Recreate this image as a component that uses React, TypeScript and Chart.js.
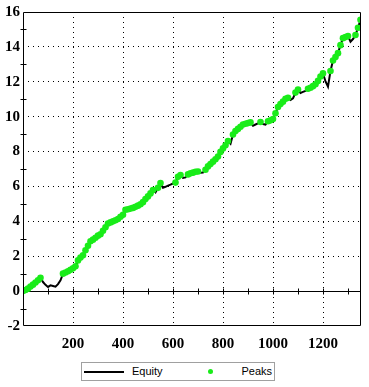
import React, { useEffect, useRef } from "react";
import { Chart, registerables } from "chart.js";

Chart.register(...registerables);

const xValues = [
  0, 10, 20, 30, 40, 50, 60, 70, 80, 90,
  100, 110, 120, 130, 140, 150, 160, 170, 180, 190,
  200, 210, 220, 230, 240, 250, 260, 270, 280, 290,
  300, 310, 320, 330, 340, 350, 360, 370, 380, 390,
  400, 410, 420, 430, 440, 450, 460, 470, 480, 490,
  500, 510, 520, 530, 540, 550, 560, 570, 580, 590,
  600, 610, 620, 630, 640, 650, 660, 670, 680, 690,
  700, 710, 720, 730, 740, 750, 760, 770, 780, 790,
  800, 810, 820, 830, 840, 850, 860, 870, 880, 890,
  900, 910, 920, 930, 940, 950, 960, 970, 980, 990,
  1000, 1010, 1020, 1030, 1040, 1050, 1060, 1070, 1080, 1090,
  1100, 1110, 1120, 1130, 1140, 1150, 1160, 1170, 1180, 1190,
  1200, 1210, 1220, 1230, 1240, 1250, 1260, 1270, 1280, 1290,
  1300, 1310, 1320, 1330, 1340, 1350,
];

const equityValues = [
  0.0, 0.06, 0.14, 0.26, 0.37, 0.49, 0.62, 0.76, 0.52, 0.36,
  0.24, 0.33, 0.29, 0.25, 0.4, 0.62, 1.0, 1.07, 1.14, 1.22,
  1.31, 1.42, 1.76, 1.92, 2.06, 2.34, 2.6, 2.86, 2.95, 3.06,
  3.18, 3.26, 3.46, 3.66, 3.88, 3.94, 4.0, 4.06, 4.13, 4.26,
  4.38, 4.66, 4.69, 4.73, 4.77, 4.83, 4.9, 4.98, 5.1, 5.28,
  5.43, 5.6, 5.8, 5.66, 5.92, 6.2, 5.93, 5.98, 6.05, 6.1,
  6.17, 6.22, 6.55, 6.66, 6.49, 6.52, 6.69, 6.75, 6.79, 6.84,
  6.86, 6.78, 6.8, 6.96, 7.15, 7.28, 7.42, 7.56, 7.72, 7.98,
  8.18, 8.36, 8.6, 8.45, 8.98, 9.18, 9.3, 9.42, 9.55, 9.59,
  9.63, 9.67, 9.48, 9.55, 9.61, 9.69, 9.58, 9.55, 9.74, 9.79,
  9.86, 10.2, 10.55, 10.72, 10.86, 11.02, 11.08, 10.96, 11.05, 11.38,
  11.56, 11.36, 11.42, 11.48, 11.6, 11.66, 11.75, 11.86, 12.05, 12.3,
  12.48, 12.02, 11.72, 12.62, 13.22, 13.42, 13.64, 14.1, 14.5, 14.56,
  14.62, 14.3, 14.45, 14.68, 15.1, 15.55,
];

const seriesLabels = ["Equity", "Peaks"];
const xMin = 0;
const xMax = 1352;
const xLabelStep = 200;
const xMinorStep = 100;
const yMin = -2;
const yMax = 16;
const yLabelStep = 2;
const yMinorValues = [-1, 1, 3, 5, 7, 9, 11, 13, 15];

const EQUITY_COLOR = "#000000";
const PEAK_COLOR = "#19ec19";

const equityPoints = xValues.map((x, i) => ({ x, y: equityValues[i] }));
const peakPoints: { x: number; y: number }[] = [];
{
  let best = -Infinity;
  equityPoints.forEach((p) => {
    if (p.y >= best) {
      best = p.y;
      peakPoints.push(p);
    }
  });
}

const framePlugin = {
  id: "frameAndZero",
  beforeDatasetsDraw(chart: any) {
    const { ctx, chartArea, scales } = chart;
    const xs = scales.x;
    const ys = scales.y;
    const y0 = Math.round(ys.getPixelForValue(0)) + 0.5;
    ctx.save();
    ctx.strokeStyle = "#000";
    ctx.lineWidth = 1;
    ctx.beginPath();
    ctx.moveTo(chartArea.left, y0);
    ctx.lineTo(chartArea.right, y0);
    for (let v = xMinorStep; v < xMax; v += xMinorStep) {
      const px = Math.round(xs.getPixelForValue(v)) + 0.5;
      ctx.moveTo(px, y0 - 3);
      ctx.lineTo(px, y0 + 3);
    }
    ctx.stroke();
    ctx.restore();
  },
  afterDraw(chart: any) {
    const { ctx, chartArea, scales } = chart;
    const ys = scales.y;
    ctx.save();
    ctx.strokeStyle = "#000";
    ctx.lineWidth = 1;
    const l = Math.round(chartArea.left) + 0.5;
    const r = Math.round(chartArea.right) - 0.5;
    const t = Math.round(chartArea.top) + 0.5;
    const b = Math.round(chartArea.bottom) - 0.5;
    ctx.beginPath();
    ctx.rect(l, t, r - l, b - t);
    yMinorValues.forEach((v) => {
      const py = Math.round(ys.getPixelForValue(v)) + 0.5;
      ctx.moveTo(l - 3, py);
      ctx.lineTo(l + 3, py);
    });
    ctx.stroke();
    ctx.restore();
  },
};

const tickFont = {
  family: "'Liberation Serif', 'Times New Roman', serif",
  size: 15,
  weight: "bold" as const,
};

export default function App() {
  const canvasRef = useRef<HTMLCanvasElement | null>(null);

  useEffect(() => {
    document.body.style.margin = "0";
    const canvas = canvasRef.current;
    if (!canvas) return;
    const chart = new Chart(canvas, {
      type: "line",
      data: {
        datasets: [
          {
            label: seriesLabels[0],
            data: equityPoints,
            borderColor: EQUITY_COLOR,
            backgroundColor: EQUITY_COLOR,
            borderWidth: 2,
            pointRadius: 0,
            tension: 0,
            order: 2,
          },
          {
            label: seriesLabels[1],
            data: peakPoints,
            showLine: false,
            pointRadius: 3.3,
            pointBorderWidth: 0,
            pointBackgroundColor: PEAK_COLOR,
            pointBorderColor: PEAK_COLOR,
            backgroundColor: PEAK_COLOR,
            borderColor: PEAK_COLOR,
            order: 1,
          },
        ],
      },
      options: {
        responsive: false,
        animation: false,
        devicePixelRatio: 1,
        layout: { padding: { top: 12, right: 8, left: 0, bottom: 0 } },
        plugins: {
          legend: { display: false },
          tooltip: { enabled: false },
        },
        scales: {
          x: {
            type: "linear",
            min: xMin,
            max: xMax,
            ticks: {
              stepSize: xLabelStep,
              includeBounds: false,
              color: "#000",
              font: tickFont,
              padding: 9,
              maxRotation: 0,
              autoSkip: false,
              callback: (v: any) => String(v),
            },
            afterBuildTicks: (scale: any) => {
              scale.ticks = scale.ticks.filter(
                (t: any) => t.value > xMin && t.value < xMax && t.value % xLabelStep === 0
              );
            },
            afterFit: (scale: any) => {
              scale.height = 61;
            },
            grid: {
              drawTicks: false,
              color: "#000",
              lineWidth: 1,
            },
            border: { display: false, dash: [1, 4] },
          },
          y: {
            type: "linear",
            min: yMin,
            max: yMax,
            ticks: {
              stepSize: yLabelStep,
              color: "#000",
              font: tickFont,
              padding: 3,
              callback: (v: any) => String(v),
            },
            afterFit: (scale: any) => {
              scale.width = 23;
            },
            grid: {
              drawTicks: false,
              lineWidth: 1,
              color: (ctx: any) => {
                const v = ctx.tick ? ctx.tick.value : 0;
                return v === 0 || v === yMin || v === yMax ? "rgba(0,0,0,0)" : "#000";
              },
            },
            border: { display: false, dash: [1, 4] },
          },
        },
      },
      plugins: [framePlugin],
    });
    return () => chart.destroy();
  }, []);

  return (
    <div style={{ position: "absolute", left: 0, top: 0, width: 369, height: 387, background: "#fff" }}>
      <canvas ref={canvasRef} width={369} height={387} style={{ display: "block" }} />
      <div
        style={{
          position: "absolute",
          left: 81,
          top: 362,
          width: 192,
          height: 17,
          border: "1px solid #a0a0a0",
          background: "#fff",
          fontFamily: "'Liberation Sans', Arial, sans-serif",
          fontSize: 11,
          color: "#000",
        }}
      >
        <div style={{ position: "absolute", left: 2, top: 8, width: 40, height: 2, background: EQUITY_COLOR }} />
        <span style={{ position: "absolute", left: 50, top: 2, lineHeight: "13px" }}>{seriesLabels[0]}</span>
        <div
          style={{
            position: "absolute",
            left: 126,
            top: 6,
            width: 5,
            height: 5,
            borderRadius: "50%",
            background: PEAK_COLOR,
          }}
        />
        <span style={{ position: "absolute", right: 2, top: 2, lineHeight: "13px" }}>{seriesLabels[1]}</span>
      </div>
    </div>
  );
}
